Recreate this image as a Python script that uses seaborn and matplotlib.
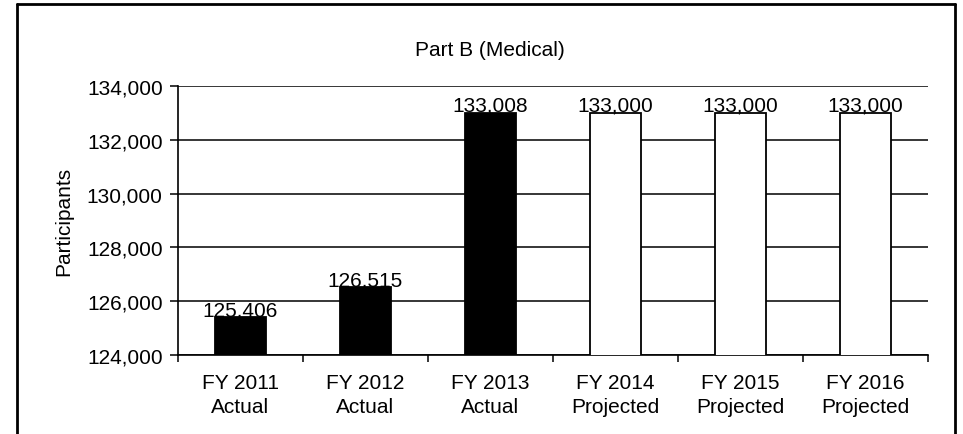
import matplotlib
matplotlib.use("Agg")
import matplotlib.pyplot as plt
from matplotlib.lines import Line2D
from matplotlib.ticker import FuncFormatter, MultipleLocator, FixedLocator
import seaborn as sns
import pandas as pd

years = ["FY 2011", "FY 2012", "FY 2013", "FY 2014", "FY 2015", "FY 2016"]
status = ["Actual", "Actual", "Actual", "Projected", "Projected", "Projected"]
participants = [125406, 126515, 133008, 133000, 133000, 133000]

df = pd.DataFrame({
    "label": [f"{y}\n{s}" for y, s in zip(years, status)],
    "status": status,
    "participants": participants,
})

sns.set_theme(style="white")
plt.rcParams["font.family"] = ["Liberation Sans", "DejaVu Sans"]

FS = 15

fig = plt.figure(figsize=(9.63, 4.35), dpi=100)
ax = fig.add_axes([0.1848, 0.1816, 0.7789, 0.6184])

sns.barplot(data=df, x="label", y="participants", hue="status",
            palette={"Actual": "black", "Projected": "white"},
            edgecolor="black", linewidth=1.3, width=0.41, dodge=False,
            legend=False, ax=ax, zorder=3)

ax.set_ylim(124000, 134000)
ax.set_xlim(-0.5, len(years) - 0.5)
ax.yaxis.set_major_locator(MultipleLocator(2000))
ax.yaxis.set_major_formatter(FuncFormatter(lambda v, p: f"{int(v):,}"))
ax.grid(axis="y", color="black", linewidth=1.1, zorder=0)
ax.set_axisbelow(True)

for side in ["top", "right"]:
    ax.spines[side].set_visible(False)
for side in ["left", "bottom"]:
    ax.spines[side].set_color("black")
    ax.spines[side].set_linewidth(1.2)

ax.tick_params(axis="y", which="major", direction="out", length=6, width=1.1,
               color="black", labelsize=FS, labelcolor="black", pad=5, left=True)
ax.tick_params(axis="x", which="major", length=0, labelsize=FS,
               labelcolor="black", pad=13)
ax.xaxis.set_minor_locator(FixedLocator([i + 0.5 for i in range(-1, len(years))]))
ax.tick_params(axis="x", which="minor", direction="out", length=5, width=1.1,
               color="black", bottom=True)
for t in ax.get_xticklabels():
    t.set_linespacing(1.3)

ax.set_xlabel("")
ax.set_ylabel("Participants", fontsize=FS, color="black", labelpad=10)

for i, v in enumerate(participants):
    ax.annotate(f"{v:,}", (i, v), xytext=(0, 1.5), textcoords="offset points",
                ha="center", va="baseline", fontsize=FS, color="black",
                zorder=4)

fig.text(0.509, 0.885, "Part B (Medical)", ha="center", va="center",
         fontsize=FS, color="black")

# outer frame around the chart (open at the bottom)
for xs, ys in [([0.0177, 0.0177], [-0.01, 0.989]),
               ([0.0177, 0.9917], [0.989, 0.989]),
               ([0.9917, 0.9917], [0.989, -0.01])]:
    fig.add_artist(Line2D(xs, ys, transform=fig.transFigure,
                          color="black", linewidth=2))

fig.savefig("out.png", dpi=100)
